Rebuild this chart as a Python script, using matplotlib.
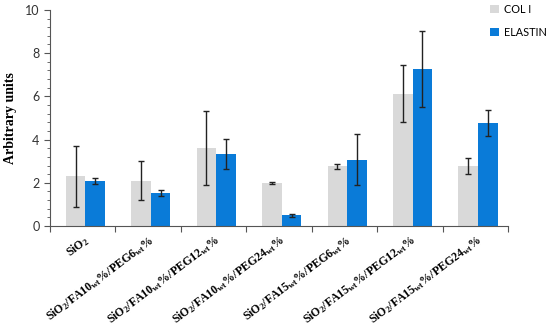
import numpy as np
from matplotlib import pyplot as plt

plt.rcParams['font.family'] = ['Lato', 'DejaVu Sans']
plt.rcParams['mathtext.fontset'] = 'custom'
plt.rcParams['mathtext.rm'] = 'Liberation Serif:bold'
plt.rcParams['mathtext.it'] = 'Liberation Serif:bold'
plt.rcParams['mathtext.bf'] = 'Liberation Serif:bold'

labels = [r'SiO$_2$',
          r'SiO$_2$/FA10$_{wt}$%/PEG6$_{wt}$%',
          r'SiO$_2$/FA10$_{wt}$%/PEG12$_{wt}$%',
          r'SiO$_2$/FA10$_{wt}$%/PEG24$_{wt}$%',
          r'SiO$_2$/FA15$_{wt}$%/PEG6$_{wt}$%',
          r'SiO$_2$/FA15$_{wt}$%/PEG12$_{wt}$%',
          r'SiO$_2$/FA15$_{wt}$%/PEG24$_{wt}$%']
col1 = [2.3, 2.1, 3.6, 2.0, 2.76, 6.13, 2.78]
col1_err = [1.42, 0.91, 1.7, 0.05, 0.13, 1.3, 0.37]
elastin = [2.08, 1.53, 3.32, 0.5, 3.07, 7.27, 4.75]
elastin_err = [0.15, 0.13, 0.7, 0.07, 1.17, 1.77, 0.6]

fig = plt.figure(figsize=(5.5, 3.3), dpi=100)
ax = fig.add_axes([0.091, 0.315, 0.833, 0.655])

x = np.arange(len(labels))
w = 0.3
ekw = dict(ecolor='#222222', elinewidth=1, capsize=2.5, capthick=1)
ax.bar(x - w/2 + 0.04, col1, w, yerr=col1_err, color='#d9d9d9', label='COL I', error_kw=ekw)
ax.bar(x + w/2 + 0.04, elastin, w, yerr=elastin_err, color='#0a7bd8', label='ELASTIN', error_kw=ekw)

ax.set_xlim(-0.5, len(labels) - 0.5)
ax.set_ylim(0, 10)
ax.set_yticks([0, 2, 4, 6, 8, 10])
ax.set_yticks(np.arange(0, 10.01, 0.4), minor=True)
ax.set_xticks(np.arange(-0.5, len(labels), 1))
ax.set_xticklabels([])
ax.set_xticks(x, minor=True)
ax.set_xticklabels(labels, minor=True, rotation=37, ha='right', rotation_mode='anchor',
                   fontfamily='Liberation Serif', fontweight='bold', fontsize=8.6)
ax.tick_params(axis='x', which='minor', length=0, pad=5)
ax.tick_params(axis='x', which='major', length=4, color='#555555')
ax.tick_params(axis='y', which='major', length=4, color='#555555', labelsize=9, labelcolor='#333333')
ax.tick_params(axis='y', which='minor', length=2.5, color='#555555')

for s in ['top', 'right']:
    ax.spines[s].set_visible(False)
for s in ['left', 'bottom']:
    ax.spines[s].set_color('#555555')

ax.set_ylabel('Arbitrary units', fontfamily='Liberation Serif', fontweight='bold', fontsize=10, labelpad=6)

ax.legend(loc='upper left', bbox_to_anchor=(490 / 550, 1 - 4 / 330), bbox_transform=fig.transFigure,
          frameon=False, fontsize=7.8, borderpad=0, borderaxespad=0,
          handlelength=0.8, handleheight=0.8, handletextpad=0.5, labelspacing=1.1)

fig.savefig('out.png', dpi=100)
